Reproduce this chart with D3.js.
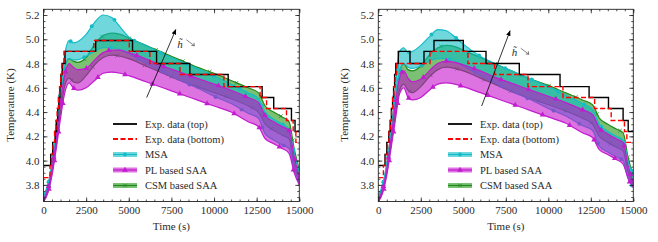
<!DOCTYPE html>
<html>
<head>
<meta charset="utf-8">
<script src="https://cdn.jsdelivr.net/npm/d3@7"></script>
<style>
body { margin: 0; background: #fff; }
svg text { font-family: "Liberation Serif", "DejaVu Serif", serif; fill: #2a2a2a; }
</style>
</head>
<body>
<div id="chart"></div>
<script>
// time grid shared by the model curves (s)
var times = [0, 250, 500, 750, 1000, 1250, 1500, 1750, 2000, 2500, 3000, 3500, 4000, 4500, 5000,
             6000, 7000, 8000, 9000, 10000, 11000, 12000, 12600, 13000, 13500, 14000, 14400, 14700, 15000];

// left panel: model bands (K)
var msaTopL = [3.72, 3.80, 3.98, 4.24, 4.58, 4.88, 4.99, 4.97, 4.98, 5.04, 5.14, 5.20, 5.18, 5.10, 5.02,
               4.95, 4.88, 4.82, 4.76, 4.70, 4.63, 4.56, 4.51, 4.40, 4.34, 4.30, 4.26, 4.06, 3.92];
var msaBotL = [3.69, 3.77, 3.95, 4.20, 4.52, 4.76, 4.84, 4.83, 4.83, 4.86, 4.90, 4.93, 4.93, 4.91, 4.88,
               4.80, 4.73, 4.66, 4.60, 4.53, 4.47, 4.39, 4.35, 4.22, 4.17, 4.13, 4.10, 3.93, 3.82];
var plTopL  = [3.68, 3.76, 3.93, 4.18, 4.48, 4.71, 4.80, 4.77, 4.75, 4.76, 4.83, 4.89, 4.91, 4.91, 4.89,
               4.84, 4.78, 4.73, 4.68, 4.63, 4.58, 4.52, 4.48, 4.37, 4.32, 4.28, 4.25, 4.03, 3.86];
var plBotL  = [3.66, 3.73, 3.88, 4.10, 4.35, 4.56, 4.64, 4.60, 4.58, 4.60, 4.66, 4.72, 4.73, 4.72, 4.70,
               4.65, 4.60, 4.55, 4.50, 4.45, 4.40, 4.32, 4.28, 4.18, 4.14, 4.10, 4.06, 3.90, 3.80];
var csmTopL = [3.70, 3.78, 3.96, 4.22, 4.52, 4.77, 4.84, 4.82, 4.81, 4.85, 4.96, 5.03, 5.05, 5.04, 5.01,
               4.95, 4.89, 4.83, 4.77, 4.72, 4.66, 4.60, 4.56, 4.45, 4.40, 4.36, 4.32, 4.10, 3.92];
var csmBotL = [3.67, 3.74, 3.90, 4.13, 4.40, 4.62, 4.68, 4.65, 4.64, 4.70, 4.79, 4.85, 4.87, 4.86, 4.84,
               4.78, 4.72, 4.66, 4.61, 4.56, 4.51, 4.45, 4.40, 4.30, 4.25, 4.21, 4.18, 3.98, 3.82];

// left panel: measured steps
var expTopTL = [0, 420, 540, 680, 760, 830, 900, 960, 1020, 1100, 1260, 3060, 5220, 6630, 8580, 10830, 12820, 13500, 14540, 14750];
var expTopVL = [3.96, 4.05, 4.15, 4.24, 4.33, 4.43, 4.52, 4.61, 4.71, 4.80, 4.90, 4.99, 4.90, 4.80, 4.71, 4.61, 4.52, 4.43, 4.33, 4.24];
var expBotTL = [0, 380, 470, 560, 650, 730, 800, 870, 940, 1010, 1080, 1200, 2950, 5030, 6240, 8000, 10580, 12700, 13080, 14250, 14640, 14800];
var expBotVL = [3.86, 3.96, 4.05, 4.15, 4.24, 4.33, 4.43, 4.52, 4.61, 4.71, 4.80, 4.90, 4.99, 4.90, 4.80, 4.71, 4.61, 4.52, 4.43, 4.33, 4.24, 4.15];

// right panel: model bands (K)
var msaTopR = [3.72, 3.80, 3.98, 4.24, 4.58, 4.90, 4.93, 4.89, 4.90, 4.95, 5.02, 5.08, 5.07, 5.02, 4.96,
               4.86, 4.79, 4.73, 4.67, 4.61, 4.54, 4.47, 4.42, 4.30, 4.24, 4.20, 4.17, 3.99, 3.88];
var msaBotR = [3.69, 3.77, 3.95, 4.20, 4.50, 4.73, 4.80, 4.77, 4.76, 4.78, 4.82, 4.84, 4.84, 4.82, 4.78,
               4.70, 4.63, 4.56, 4.50, 4.43, 4.37, 4.29, 4.25, 4.12, 4.07, 4.03, 4.00, 3.85, 3.78];
var plTopR  = [3.68, 3.76, 3.93, 4.18, 4.46, 4.68, 4.74, 4.68, 4.65, 4.67, 4.74, 4.80, 4.82, 4.81, 4.79,
               4.74, 4.68, 4.63, 4.58, 4.53, 4.48, 4.42, 4.38, 4.27, 4.22, 4.18, 4.15, 3.95, 3.82];
var plBotR  = [3.66, 3.73, 3.88, 4.10, 4.33, 4.55, 4.60, 4.52, 4.50, 4.52, 4.58, 4.63, 4.64, 4.63, 4.61,
               4.56, 4.51, 4.46, 4.41, 4.36, 4.31, 4.23, 4.19, 4.09, 4.05, 4.01, 3.97, 3.85, 3.78];
var csmTopR = [3.70, 3.78, 3.96, 4.22, 4.50, 4.74, 4.80, 4.75, 4.74, 4.78, 4.87, 4.93, 4.95, 4.94, 4.91,
               4.85, 4.79, 4.73, 4.67, 4.62, 4.56, 4.50, 4.46, 4.35, 4.30, 4.26, 4.23, 4.02, 3.88];
var csmBotR = [3.67, 3.74, 3.90, 4.13, 4.38, 4.58, 4.63, 4.58, 4.56, 4.61, 4.69, 4.75, 4.77, 4.76, 4.74,
               4.68, 4.62, 4.56, 4.51, 4.46, 4.41, 4.35, 4.30, 4.20, 4.15, 4.11, 4.08, 3.90, 3.80];

// right panel: measured steps
var expTopTR = [0, 394, 500, 620, 700, 770, 840, 900, 960, 1030, 1176, 1865, 2688, 3276, 5000, 6335, 8294, 10690, 12400, 13540, 14400, 14700];
var expTopVR = [3.96, 4.05, 4.15, 4.24, 4.33, 4.43, 4.52, 4.61, 4.71, 4.80, 4.90, 4.80, 4.90, 4.99, 4.90, 4.80, 4.71, 4.61, 4.52, 4.43, 4.33, 4.24];
var expBotTR = [0, 300, 420, 540, 630, 710, 780, 850, 920, 990, 1080, 3040, 5274, 6843, 8804, 10863, 12725, 13700, 14480, 14620];
var expBotVR = [3.86, 3.96, 4.05, 4.15, 4.24, 4.33, 4.43, 4.52, 4.61, 4.71, 4.80, 4.90, 4.80, 4.71, 4.61, 4.52, 4.43, 4.33, 4.24, 4.15];

var legendLabels = ["Exp. data (top)", "Exp. data (bottom)", "MSA", "PL based SAA", "CSM based SAA"];
var xTicks = [0, 2500, 5000, 7500, 10000, 12500, 15000];
var yTicks = [3.8, 4.0, 4.2, 4.4, 4.6, 4.8, 5.0, 5.2];

var tEnd = 15000;
var serif = "'Liberation Serif', 'DejaVu Serif', serif";
var colors = {msa: "#14bcc6", pl: "#c21ccf", csm: "#228a1c"};
var fills = {msa: "#08bcc4", pl: "#c40ccc", csm: "#1c9410"};

var svg = d3.select("#chart").append("svg")
            .attr("width", 658)
            .attr("height", 242);

var panels = [
  {x0: 43.5, x1: 299.3, id: "L",
   msa: [msaTopL, msaBotL], pl: [plTopL, plBotL], csm: [csmTopL, csmBotL],
   top: [expTopTL, expTopVL], bot: [expBotTL, expBotVL],
   arrow: [[6050, 4.52], [7760, 5.08]], hLabel: [7850, 4.93], legendX: 113},
  {x0: 378.3, x1: 633.3, id: "R",
   msa: [msaTopR, msaBotR], pl: [plTopR, plBotR], csm: [csmTopR, csmBotR],
   top: [expTopTR, expTopVR], bot: [expBotTR, expBotVR],
   arrow: [[6080, 4.45], [7750, 5.07]], hLabel: [7850, 4.86], legendX: 448}
];

function stepData(ts, vs) {
  var d = ts.map(function(t, i){ return [t, vs[i]]; });
  d.push([tEnd, vs[vs.length - 1]]);
  return d;
}

function markerPath(kind) {
  if (kind == "msa") {
    return d3.symbol().type(d3.symbolCircle).size(12)();
  } else if (kind == "pl") {
    return d3.symbol().type(d3.symbolTriangle).size(14)();
  }
  return d3.symbol().type(d3.symbolX).size(10)();
}

panels.forEach(function(p) {
  var xScale = d3.scaleLinear().domain([0, 15000]).range([p.x0, p.x1]);
  var yScale = d3.scaleLinear().domain([3.663, 5.247]).range([201.5, 9.3]);

  svg.append("clipPath").attr("id", "clip" + p.id)
     .append("rect")
     .attr("x", p.x0).attr("y", 9.3)
     .attr("width", p.x1 - p.x0).attr("height", 201.5 - 9.3);

  var plot = svg.append("g").attr("clip-path", "url(#clip" + p.id + ")");

  var area = d3.area()
               .x(function(d, i){ return xScale(times[i]); })
               .y0(function(d){ return yScale(d[1]); })
               .y1(function(d){ return yScale(d[0]); })
               .curve(d3.curveMonotoneX);
  var line = d3.line()
               .x(function(d, i){ return xScale(times[i]); })
               .y(function(d){ return yScale(d); })
               .curve(d3.curveMonotoneX);

  // bands stacked green, cyan, magenta so the overlaps mix like the figure
  ["csm", "msa", "pl"].forEach(function(k) {
    var band = p[k][0].map(function(v, i){ return [v, p[k][1][i]]; });
    plot.append("path")
        .attr("d", area(band))
        .attr("fill", fills[k]).attr("fill-opacity", 0.58);
    p[k].forEach(function(arr) {
      var path = plot.append("path")
          .attr("d", line(arr))
          .attr("fill", "none").attr("stroke", colors[k]).attr("stroke-width", 1.2);
      // markers spaced evenly along the drawn curve
      var node = path.node();
      var len = node.getTotalLength();
      for (var s = 14; s < len; s += 29) {
        var pt = node.getPointAtLength(s);
        plot.append("path")
            .attr("d", markerPath(k))
            .attr("transform", "translate(" + pt.x + "," + pt.y + ")")
            .attr("fill", colors[k]).attr("stroke", k == "csm" ? colors[k] : "none")
            .attr("stroke-width", 0.8);
      }
    });
  });

  // measured steps on top of the bands
  var stepLine = d3.line()
                   .x(function(d){ return xScale(d[0]); })
                   .y(function(d){ return yScale(d[1]); })
                   .curve(d3.curveStepAfter);

  plot.append("path")
      .attr("d", stepLine(stepData(p.top[0], p.top[1])))
      .attr("fill", "none").attr("stroke", "#000").attr("stroke-width", 1.4);
  plot.append("path")
      .attr("d", stepLine(stepData(p.bot[0], p.bot[1])))
      .attr("fill", "none").attr("stroke", "#f00").attr("stroke-width", 1.4)
      .attr("stroke-dasharray", "5,2.5");

  // axes with inward ticks
  var axes = [
    d3.axisBottom(xScale).tickValues(xTicks).tickSize(-4).tickPadding(5).tickFormat(d3.format("d")),
    d3.axisTop(xScale).tickValues(xTicks).tickSize(-4).tickFormat(""),
    d3.axisLeft(yScale).tickValues(yTicks).tickSize(-4).tickPadding(4).tickFormat(d3.format(".1f")),
    d3.axisRight(yScale).tickValues(yTicks).tickSize(-4).tickFormat("")
  ];
  var minorX = d3.range(0, 15001, 500);
  var minorY = d3.range(3.7, 5.24, 0.05);
  var minors = [
    d3.axisBottom(xScale).tickValues(minorX).tickSize(-2).tickFormat(""),
    d3.axisTop(xScale).tickValues(minorX).tickSize(-2).tickFormat(""),
    d3.axisLeft(yScale).tickValues(minorY).tickSize(-2).tickFormat(""),
    d3.axisRight(yScale).tickValues(minorY).tickSize(-2).tickFormat("")
  ];
  var offs = ["translate(0,201.5)", "translate(0,9.3)", "translate(" + p.x0 + ",0)", "translate(" + p.x1 + ",0)"];
  axes.concat(minors).forEach(function(ax, i) {
    var a = svg.append("g").attr("transform", offs[i % 4]).call(ax);
    a.select(".domain").remove();
    a.attr("font-family", serif);
    a.selectAll("line").attr("stroke", "#222").attr("stroke-width", 0.8);
    a.selectAll("text").style("font-family", serif).attr("font-size", 11).attr("fill", "#2a2a2a");
  });

  svg.append("rect")
     .attr("x", p.x0).attr("y", 9.3)
     .attr("width", p.x1 - p.x0).attr("height", 201.5 - 9.3)
     .attr("fill", "none").attr("stroke", "#222").attr("stroke-width", 0.9);

  // axis titles
  svg.append("text")
     .attr("transform", "translate(" + (p.x0 - 30) + "," + 105 + ") rotate(-90)")
     .attr("text-anchor", "middle").attr("font-size", 11).style("font-family", serif)
     .text("Temperature (K)");
  svg.append("text")
     .attr("x", (p.x0 + p.x1) / 2).attr("y", 230)
     .attr("text-anchor", "middle").attr("font-size", 11).style("font-family", serif)
     .text("Time (s)");

  // h~ arrow
  svg.append("defs").append("marker")
     .attr("id", "head" + p.id).attr("viewBox", "0 0 10 10")
     .attr("refX", 9).attr("refY", 5)
     .attr("markerWidth", 7).attr("markerHeight", 7)
     .attr("orient", "auto")
     .append("path").attr("d", "M0,1L10,5L0,9z").attr("fill", "#000");
  svg.append("line")
     .attr("x1", xScale(p.arrow[0][0])).attr("y1", yScale(p.arrow[0][1]))
     .attr("x2", xScale(p.arrow[1][0])).attr("y2", yScale(p.arrow[1][1]))
     .attr("stroke", "#000").attr("stroke-width", 0.8)
     .attr("marker-end", "url(#head" + p.id + ")");
  var hx = xScale(p.hLabel[0]), hy = yScale(p.hLabel[1]);
  svg.append("text")
     .attr("x", hx).attr("y", hy)
     .attr("font-size", 11).attr("font-style", "italic").style("font-family", serif)
     .text("h\u0303");
  svg.append("path")
     .attr("d", "M" + (hx + 9) + "," + (hy - 8) + "L" + (hx + 17) + "," + (hy - 2)
          + "M" + (hx + 14) + "," + (hy - 2.3) + "L" + (hx + 17) + "," + (hy - 2)
          + "L" + (hx + 16.6) + "," + (hy - 5))
     .attr("fill", "none").attr("stroke", "#333").attr("stroke-width", 0.6);

  // legend
  var lg = svg.append("g");
  var rowY = [124, 139, 154.5, 170, 185.5];
  var keys = ["top", "bot", "msa", "pl", "csm"];
  keys.forEach(function(k, i) {
    var y0 = rowY[i];
    var x0 = p.legendX, x1 = p.legendX + 24;
    if (k == "top" || k == "bot") {
      lg.append("line").attr("x1", x0).attr("x2", x1).attr("y1", y0).attr("y2", y0)
        .attr("stroke", k == "top" ? "#000" : "#f00").attr("stroke-width", 1.8)
        .attr("stroke-dasharray", k == "bot" ? "5,2.5" : null);
    } else {
      lg.append("rect").attr("x", x0).attr("y", y0 - 2.5).attr("width", 24).attr("height", 5)
        .attr("fill", fills[k]).attr("fill-opacity", 0.58);
      lg.append("line").attr("x1", x0).attr("x2", x1).attr("y1", y0).attr("y2", y0)
        .attr("stroke", colors[k]).attr("stroke-width", 1.2);
      lg.append("path").attr("d", markerPath(k))
        .attr("transform", "translate(" + (x0 + 12) + "," + y0 + ")")
        .attr("fill", colors[k]).attr("stroke", k == "csm" ? colors[k] : "none").attr("stroke-width", 0.8);
    }
    lg.append("text").attr("x", x1 + 8).attr("y", y0 + 3.6)
      .attr("font-size", 10.5).style("font-family", serif).text(legendLabels[i]);
  });
});
</script>
</body>
</html>
